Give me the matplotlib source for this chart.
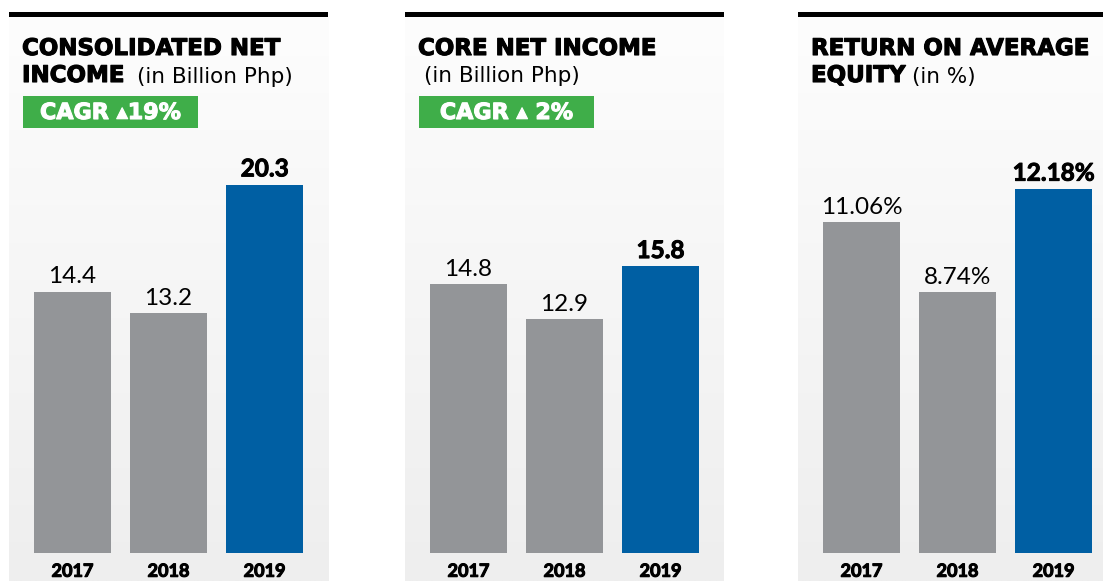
import matplotlib.pyplot as plt
import numpy as np
from matplotlib import patheffects
from matplotlib.colors import LinearSegmentedColormap
from matplotlib.patches import Rectangle

years = ["2017", "2018", "2019"]
consolidated = [14.4, 13.2, 20.3]
core = [14.8, 12.9, 15.8]
roae = [11.06, 8.74, 12.18]
consolidated_labels = ["14.4", "13.2", "20.3"]
core_labels = ["14.8", "12.9", "15.8"]
roae_labels = ["11.06%", "8.74%", "12.18%"]

W, H = 1103, 581
GRAY = "#939598"
BLUE = "#005fa3"
GREEN = "#3fae49"
BASE = 553  # pixel row of the bar baseline

plt.rcParams["font.family"] = ["Lato", "DejaVu Sans"]
HEAVY = ["DejaVu Sans"]

fig = plt.figure(figsize=(W / 100, H / 100), dpi=100)
bg_cmap = LinearSegmentedColormap.from_list("bg", ["#fdfdfd", "#eeeeee"])
grad = np.linspace(0, 1, 256).reshape(-1, 1)


def px_rect(x0, y0, x1, y1):
    # pixel box with top-left origin -> figure fraction rect
    return [x0 / W, 1 - y1 / H, (x1 - x0) / W, (y1 - y0) / H]


def ftext(x, y, s, **kw):
    return fig.text(x / W, 1 - y / H, s, va="baseline", **kw)


def heavy(color, lw=0.8):
    return [patheffects.withStroke(linewidth=lw, foreground=color)]


def panel(left, values, labels, px_per_unit, title1, title2, sub, sub_gap, cagr=None):
    right = left + 319
    fig.add_artist(Rectangle((left / W, 1 - 17 / H), (right - left) / W, 5 / H,
                             transform=fig.transFigure, color="black", lw=0))
    bg = fig.add_axes(px_rect(left, 17, right, H))
    bg.imshow(grad, aspect="auto", cmap=bg_cmap, vmin=0, vmax=1)
    bg.set_axis_off()

    top = 140
    ax = fig.add_axes(px_rect(left + 15.5, top, left + 303.5, BASE))
    ax.patch.set_visible(False)
    x = np.arange(len(values))
    bars = ax.bar(x, values, width=77 / 96, color=[GRAY, GRAY, BLUE])
    ax.set_xlim(-0.5, 2.5)
    ax.set_ylim(0, (BASE - top) / px_per_unit)
    for i, (b, lab) in enumerate(zip(bars, labels)):
        t = ax.annotate(lab, (b.get_x() + b.get_width() / 2, b.get_height()),
                        xytext=(0, 3), textcoords="offset points", ha="center", va="bottom",
                        fontsize=17.5, fontweight="bold" if i == 2 else "normal")
        if i == 2:
            t.set_path_effects(heavy("black", 0.7))
    ax.set_xticks(x, years, fontsize=13, fontweight="bold")
    for t in ax.get_xticklabels():
        t.set_path_effects(heavy("black"))
    ax.tick_params(axis="x", length=0, pad=7)
    ax.set_yticks([])
    for s in ax.spines.values():
        s.set_visible(False)

    ftext(left + 13, 55, title1, fontsize=16.5, fontweight="bold", family=HEAVY,
          path_effects=heavy("black"))
    if title2:
        t2 = ftext(left + 13, 82, title2, fontsize=16.5, fontweight="bold", family=HEAVY,
                   path_effects=heavy("black"))
        fig.add_artist(plt.Annotation(sub, xy=(1, 0), xycoords=t2,
                                      xytext=(sub_gap, 0), textcoords="offset pixels",
                                      va="bottom", fontsize=15.5, family=HEAVY))
    else:
        ftext(left + 19, 82, sub, fontsize=15.5, family=HEAVY)
    if cagr:
        fig.add_artist(Rectangle(((left + 14) / W, 1 - 128 / H), 175 / W, 32 / H,
                                 transform=fig.transFigure, color=GREEN, lw=0))
        fig.text((left + 101.5) / W, 1 - 113 / H, cagr, ha="center", va="center",
                 color="white", fontsize=16, fontweight="bold", family=HEAVY,
                 path_effects=heavy("white"))


panel(9, consolidated, consolidated_labels, 18.15,
      "CONSOLIDATED NET", "INCOME", "(in Billion Php)", 13, "CAGR \u25b419%")
panel(405, core, core_labels, 18.15,
      "CORE NET INCOME", "", "(in Billion Php)", 0, "CAGR \u25b4 2%")
panel(798, roae, roae_labels, 29.9,
      "RETURN ON AVERAGE", "EQUITY", "(in %)", 7)

fig.savefig("out.png", dpi=100)
